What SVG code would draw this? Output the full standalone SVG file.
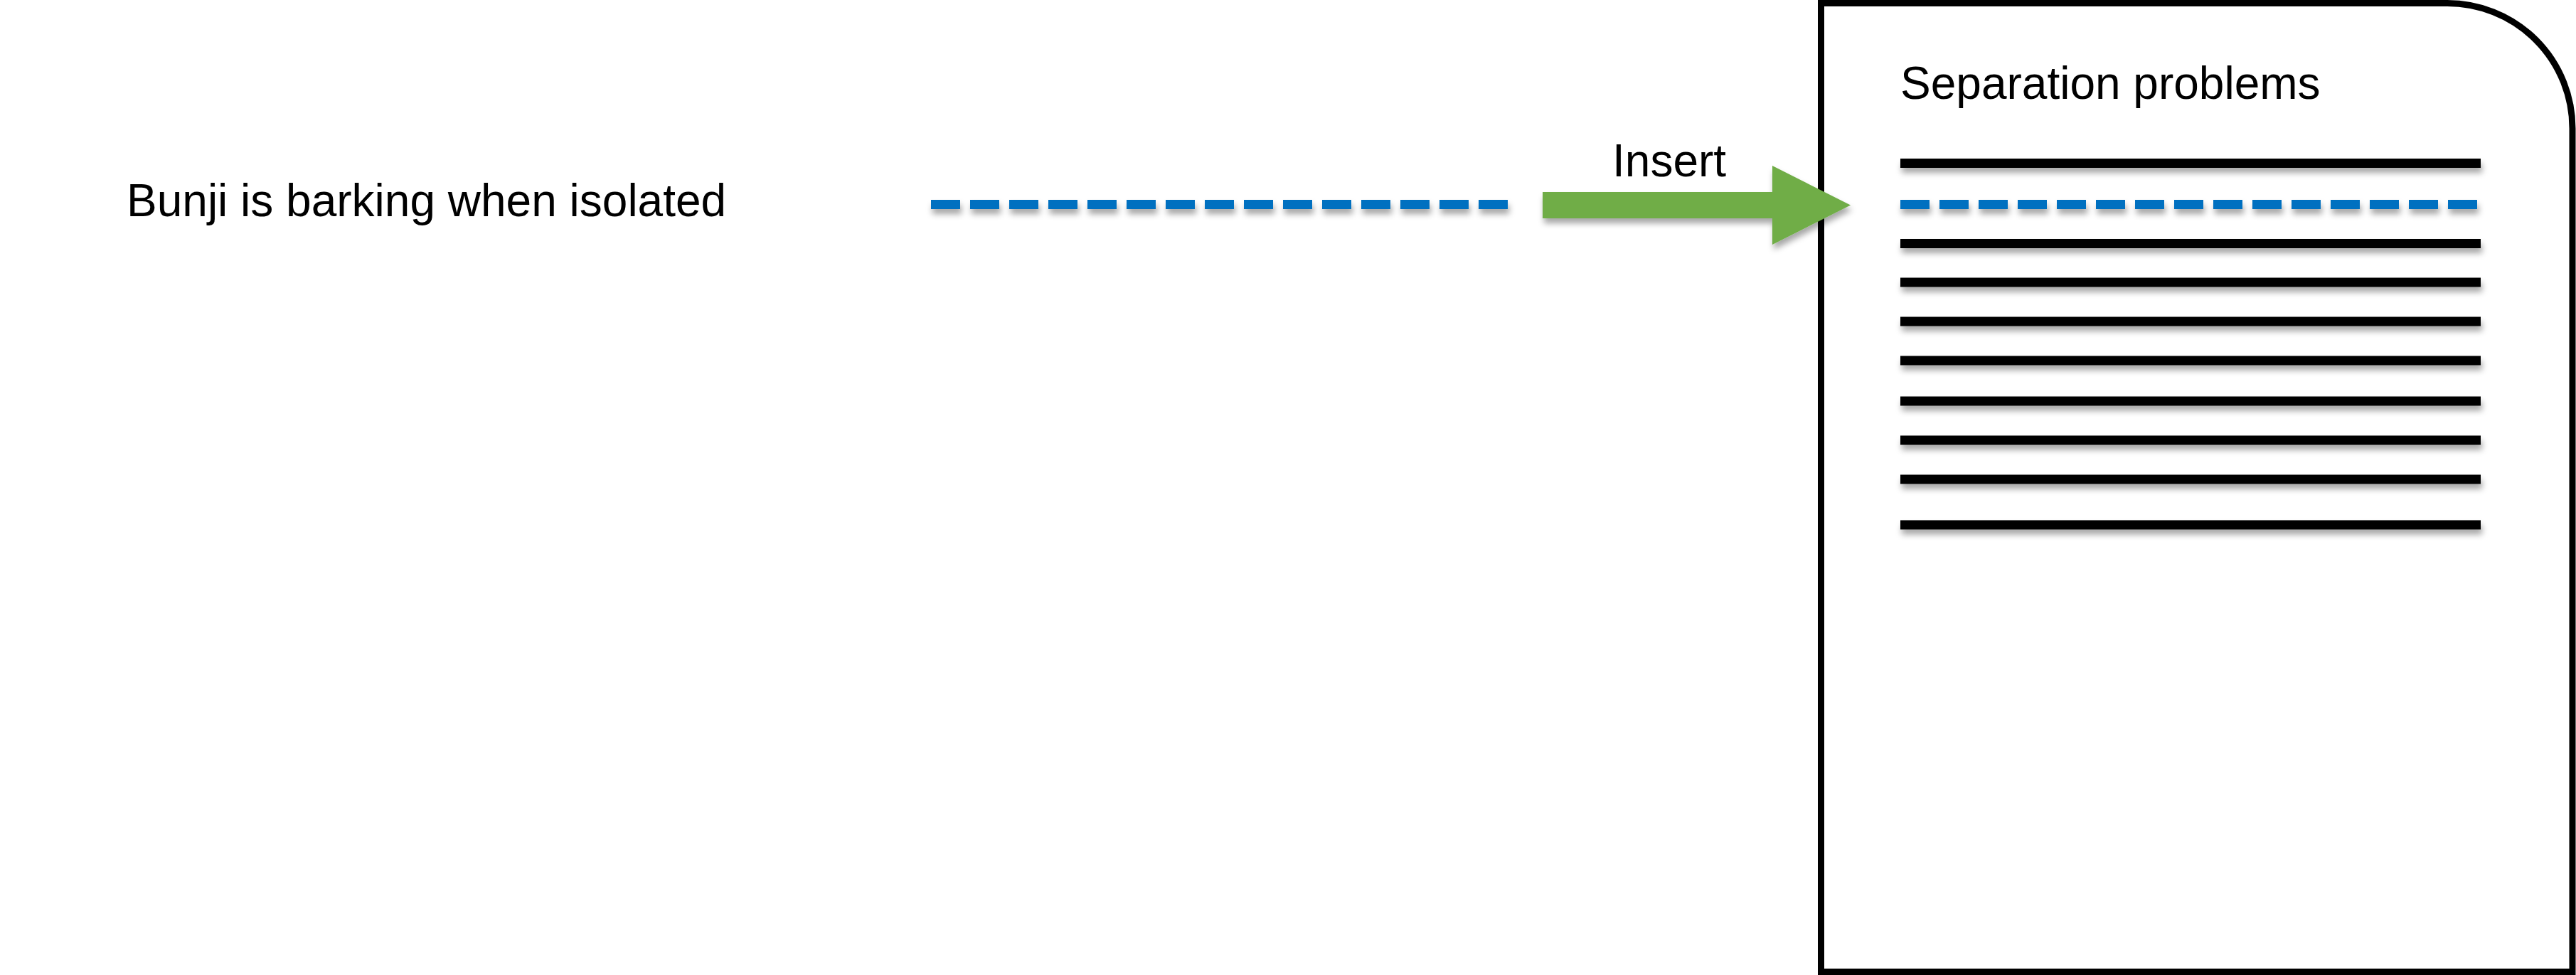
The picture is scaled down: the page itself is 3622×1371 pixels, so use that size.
<svg xmlns="http://www.w3.org/2000/svg" width="3622" height="1371" viewBox="0 0 3622 1371">
  <defs>
    <filter id="shadow" filterUnits="userSpaceOnUse" x="0" y="0" width="3622" height="1371">
      <feDropShadow dx="2" dy="7" stdDeviation="4" flood-color="#000" flood-opacity="0.35"/>
    </filter>
  </defs>
  <style>
    .txt { font-family: "Liberation Sans", Arial, sans-serif; font-size: 64px; fill: #000; }
    .line { stroke: #000; stroke-width: 13; fill: none; filter: url(#shadow); }
    .dash { stroke: #0070C0; stroke-width: 13; fill: none; stroke-dasharray: 41 14; filter: url(#shadow); }
    .box { fill: #fff; stroke: #000; stroke-width: 9; }
  </style>
  <rect width="3622" height="1371" fill="#fff"/>

  <g id="source">
    <text class="txt" x="178" y="304">Bunji is barking when isolated</text>
    <line class="dash" x1="1309" y1="287.5" x2="2120" y2="287.5"/>
  </g>

  <g id="document">
    <path class="box" d="M2560.5,4.5 H3441 A176,176 0 0 1 3617,180.5 V1366.5 H2560.5 Z"/>
    <text class="txt" x="2672" y="139">Separation problems</text>
    <line class="line" x1="2672" y1="229.5" x2="3488" y2="229.5"/>
    <line class="dash" x1="2672" y1="287.5" x2="3483" y2="287.5"/>
    <line class="line" x1="2672" y1="342.5" x2="3488" y2="342.5"/>
    <line class="line" x1="2672" y1="397" x2="3488" y2="397"/>
    <line class="line" x1="2672" y1="452" x2="3488" y2="452"/>
    <line class="line" x1="2672" y1="507" x2="3488" y2="507"/>
    <line class="line" x1="2672" y1="564" x2="3488" y2="564"/>
    <line class="line" x1="2672" y1="619" x2="3488" y2="619"/>
    <line class="line" x1="2672" y1="674" x2="3488" y2="674"/>
    <line class="line" x1="2672" y1="738" x2="3488" y2="738"/>
  </g>

  <g id="connectors">
    <polygon points="2169,270 2492,270 2492,233 2602,288.5 2492,344 2492,307 2169,307" fill="#70AD47" filter="url(#shadow)"/>
    <text class="txt" x="2267" y="248">Insert</text>
  </g>
</svg>
